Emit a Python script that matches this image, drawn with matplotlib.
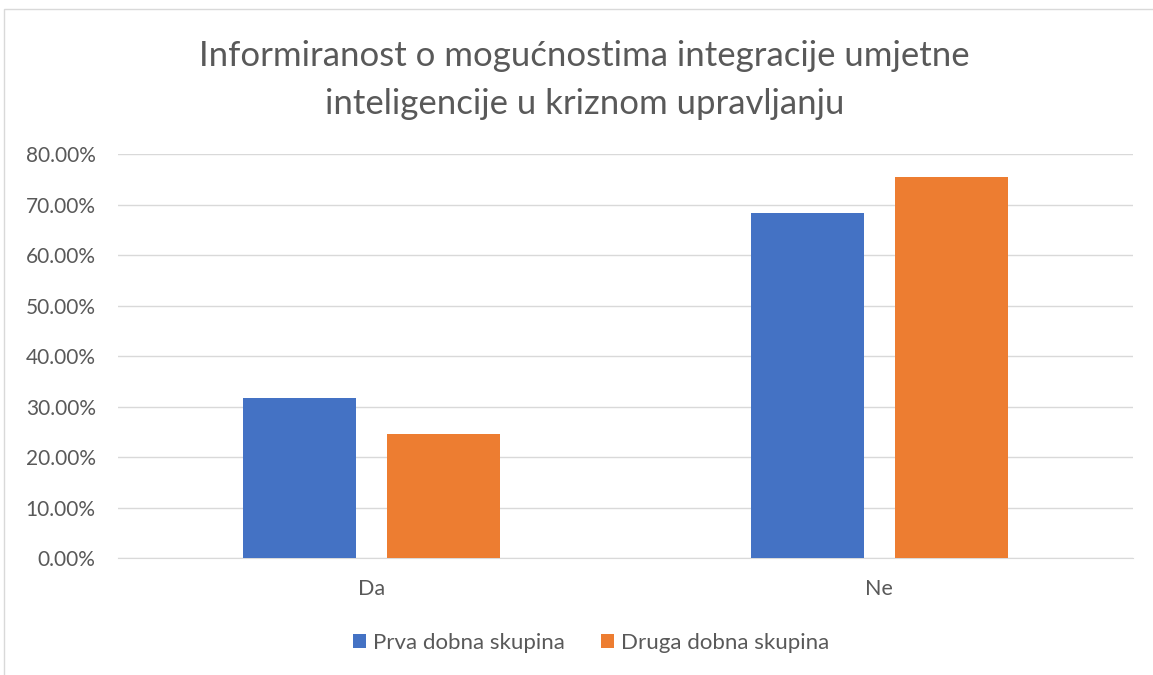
import matplotlib
matplotlib.use("Agg")
import matplotlib.pyplot as plt
import numpy as np
from matplotlib.patches import Rectangle
from matplotlib.ticker import FuncFormatter

categories = ["Da", "Ne"]
series_names = ["Prva dobna skupina", "Druga dobna skupina"]
prva = [0.317, 0.683]
druga = [0.246, 0.754]
colors = ["#4472C4", "#ED7D31"]
title = "Informiranost o mogućnostima integracije umjetne\ninteligencije u kriznom upravljanju"

plt.rcParams["font.family"] = ["Lato", "DejaVu Sans"]

fig = plt.figure(figsize=(11.53, 6.75), dpi=100)
ax = fig.add_axes([0.1023, 0.1729, 0.8804, 0.599])

x = np.arange(len(categories))
width = 0.223
offset = 0.142
ax.bar(x - offset, prva, width, color=colors[0], label=series_names[0], zorder=3)
ax.bar(x + offset, druga, width, color=colors[1], label=series_names[1], zorder=3)

ax.set_xlim(-0.5, 1.5)
ax.set_ylim(0, 0.8)
ax.set_yticks(np.arange(0, 0.81, 0.1))
ax.yaxis.set_major_formatter(FuncFormatter(lambda v, _: f"{v * 100:.2f}%"))
ax.set_xticks(x)
ax.set_xticklabels(categories)
ax.grid(axis="y", color="#D9D9D9", linewidth=1, zorder=0)
for s in ["top", "right", "left"]:
    ax.spines[s].set_visible(False)
ax.spines["bottom"].set_color("#D9D9D9")
ax.tick_params(axis="both", length=0, labelsize=15, colors="#595959")
ax.tick_params(axis="y", pad=16)
ax.tick_params(axis="x", labelsize=15.5, pad=15)

fig.text(0.507, 0.8815, title, ha="center", va="center", fontsize=25,
         color="#595959", linespacing=1.6)

ax.legend(loc="center", bbox_to_anchor=(0.466, -0.21), ncol=2, frameon=False,
          fontsize=16, labelcolor="#595959", handlelength=0.6, handleheight=0.6,
          handletextpad=0.3, columnspacing=1.6)

# chart border (open on the right and bottom like the screenshot crop)
fig.patches.append(Rectangle((4 / 1153, -0.1), 1.2, (675 - 9) / 675 + 0.1,
                             transform=fig.transFigure, fill=False,
                             edgecolor="#D9D9D9", linewidth=1))

fig.savefig("out.png", dpi=100)
